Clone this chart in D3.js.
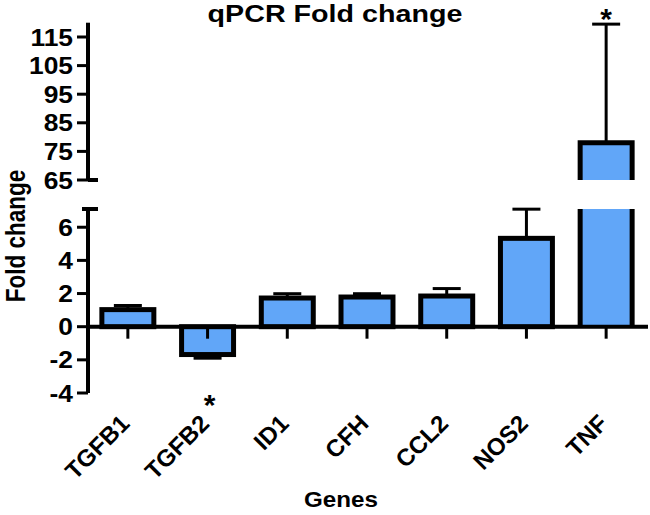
<!DOCTYPE html>
<html><head><meta charset="utf-8">
<script src="https://cdn.jsdelivr.net/npm/d3@7"></script>
<style>
body{margin:0;background:#fff}
svg{display:block}
text{font-family:"Liberation Sans",Arial,Helvetica,sans-serif;font-weight:bold;fill:#000}
</style></head><body>
<script>
const genes = ["TGFB1","TGFB2","ID1","CFH","CCL2","NOS2","TNF"];
const foldChange = [1.03,-1.68,1.73,1.79,1.85,5.33,78];
const errorSEM = [0.25,0.22,0.26,0.2,0.45,1.76,41.5];
const significant = [false,true,false,false,false,false,true];
const lowerTicks = [-4,-2,0,2,4,6];
const upperTicks = [65,75,85,95,105,115];
const lowerDomain = [-4, 7.1];
const upperDomain = [65, 120];
const title = "qPCR Fold change";
const xTitle = "Genes";
const yTitle = "Fold change";

const W = 650, H = 515;
const SX = 1.1; // horizontal text stretch of the original
const svg = d3.select("body").append("svg").attr("width", W).attr("height", H);

const axisX = 88;
const x = d3.scaleBand().domain(genes).range([axisX, 646]).paddingInner(0.348).paddingOuter(0.174);
const yL = d3.scaleLinear().domain(lowerDomain).range([393, 209]);
const yU = d3.scaleLinear().domain(upperDomain).range([180, 22.7]);
const fill = "#61a6f8";
const data = genes.map((g,i)=>({g, v: foldChange[i], e: errorSEM[i], s: significant[i]}));
const lowerMax = lowerDomain[1];

const g = svg.append("g");
const bw = x.bandwidth();
const capW = 28;

data.forEach(d => {
  const x0 = x(d.g), x1 = x0 + bw, cx = x0 + bw/2;
  if (d.v > lowerMax) {
    const yt = yL(lowerMax), yb = yL(0);
    g.append("rect").attr("x", x0).attr("y", yt).attr("width", bw).attr("height", yb - yt).attr("fill", fill);
    g.append("path").attr("d", `M${x0},${yt}V${yb}M${x1},${yt}V${yb}`).attr("stroke", "#000").attr("stroke-width", 5).attr("fill", "none");
    const ut = yU(d.v), ub = yU(upperDomain[0]);
    const ye = yU(d.v + d.e);
    g.append("line").attr("x1", cx).attr("x2", cx).attr("y1", ut).attr("y2", ye).attr("stroke", "#000").attr("stroke-width", 3);
    g.append("line").attr("x1", cx - capW/2).attr("x2", cx + capW/2).attr("y1", ye).attr("y2", ye).attr("stroke", "#000").attr("stroke-width", 3);
    g.append("rect").attr("x", x0).attr("y", ut).attr("width", bw).attr("height", ub - ut).attr("fill", fill);
    g.append("path").attr("d", `M${x0},${ub}V${ut}H${x1}V${ub}`).attr("stroke", "#000").attr("stroke-width", 5).attr("fill", "none");
    if (d.s) svg.append("text").attr("x", cx).attr("y", ye + 5).attr("text-anchor", "middle").attr("font-size", 30).text("*");
  } else {
    const yv = yL(d.v), y0 = yL(0);
    const ye = yL(d.v + (d.v >= 0 ? d.e : -d.e));
    g.append("line").attr("x1", cx).attr("x2", cx).attr("y1", yv).attr("y2", ye).attr("stroke", "#000").attr("stroke-width", 3);
    g.append("line").attr("x1", cx - capW/2).attr("x2", cx + capW/2).attr("y1", ye).attr("y2", ye).attr("stroke", "#000").attr("stroke-width", 3);
    g.append("rect").attr("x", x0).attr("y", Math.min(yv, y0)).attr("width", bw).attr("height", Math.abs(y0 - yv))
      .attr("fill", fill).attr("stroke", "#000").attr("stroke-width", 5);
    if (d.s) svg.append("text").attr("x", cx + 2).attr("y", yL(lowerDomain[0]) + 22).attr("text-anchor", "middle").attr("font-size", 30).text("*");
  }
});

// X axis
const xa = svg.append("g");
xa.append("line").attr("x1", axisX).attr("x2", 648).attr("y1", yL(0)).attr("y2", yL(0)).attr("stroke", "#000").attr("stroke-width", 4);
genes.forEach(gn => {
  const cx = x(gn) + bw/2;
  xa.append("line").attr("x1", cx).attr("x2", cx).attr("y1", yL(0)).attr("y2", yL(0) + 12).attr("stroke", "#000").attr("stroke-width", 3);
  xa.append("text").attr("text-anchor", "end").attr("font-size", 24)
    .attr("transform", `translate(${cx + 3},${yL(lowerDomain[0]) + 32}) rotate(-45)`).text(gn);
});

// Y axes
function drawY(scale, ticks, domain, capTop, capBottom) {
  const ya = svg.append("g");
  ya.append("line").attr("x1", axisX).attr("x2", axisX).attr("y1", scale(domain[0])).attr("y2", scale(domain[1])).attr("stroke", "#000").attr("stroke-width", 4);
  ticks.forEach(t => {
    ya.append("line").attr("x1", axisX - 11).attr("x2", axisX).attr("y1", scale(t)).attr("y2", scale(t)).attr("stroke", "#000").attr("stroke-width", 3);
    ya.append("text").attr("text-anchor", "end").attr("font-size", 24).attr("dy", "0.36em")
      .attr("transform", `translate(73,${scale(t)}) scale(${SX},1)`).text(t);
  });
  if (capTop) ya.append("line").attr("x1", axisX - 6).attr("x2", axisX + 10).attr("y1", scale(domain[1])).attr("y2", scale(domain[1])).attr("stroke", "#000").attr("stroke-width", 4);
  if (capBottom) ya.append("line").attr("x1", axisX).attr("x2", axisX + 10).attr("y1", scale(domain[0])).attr("y2", scale(domain[0])).attr("stroke", "#000").attr("stroke-width", 4);
}
drawY(yL, lowerTicks, lowerDomain, true, false);
drawY(yU, upperTicks, upperDomain, false, true);

// titles
svg.append("text").attr("text-anchor", "middle").attr("font-size", 23.5)
  .attr("transform", `translate(335,21.5) scale(1.22,1)`).text(title);
svg.append("text").attr("text-anchor", "middle").attr("font-size", 22)
  .attr("transform", `translate(341,507) scale(${SX},1)`).text(xTitle);
svg.append("text").attr("text-anchor", "middle").attr("font-size", 22.5)
  .attr("transform", `translate(25,236) scale(1.22,1) rotate(-90)`).text(yTitle);
</script>
</body></html>
